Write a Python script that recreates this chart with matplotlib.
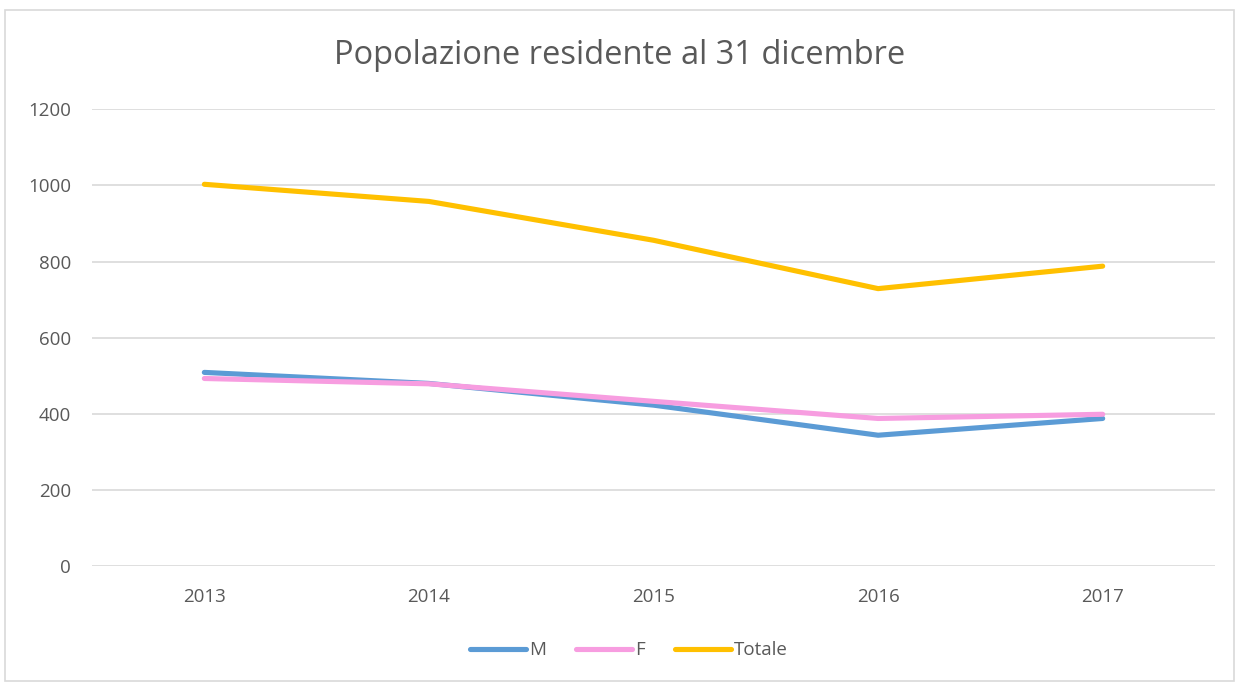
import matplotlib.pyplot as plt
from matplotlib.patches import Rectangle

# Data
years = ["2013", "2014", "2015", "2016", "2017"]
maschi = [509, 480, 423, 344, 388]
femmine = [493, 479, 433, 388, 399]
totale = [1003, 958, 856, 729, 788]

plt.rcParams["font.family"] = ["Open Sans", "DejaVu Sans"]

fig = plt.figure(figsize=(12.39, 6.83), dpi=100)
ax = fig.add_axes([0.0743, 0.171, 0.9063, 0.669])

x = range(len(years))
ax.plot(x, maschi, color="#5B9BD5", lw=3.7, solid_capstyle="round", label="M")
ax.plot(x, femmine, color="#F79DE0", lw=3.7, solid_capstyle="round", label="F")
ax.plot(x, totale, color="#FFC000", lw=3.7, solid_capstyle="round", label="Totale")

ax.set_xlim(-0.5, len(years) - 0.5)
ax.set_ylim(0, 1200)
ax.set_yticks(range(0, 1201, 200))
ax.set_xticks(list(x))
ax.set_xticklabels(years)
ax.tick_params(length=0, labelsize=13.5, colors="#595959")
ax.tick_params(axis="x", pad=16)
ax.tick_params(axis="y", pad=15)
ax.grid(axis="y", color="#D9D9D9", lw=1.2)
ax.set_axisbelow(True)
for s in ax.spines.values():
    s.set_visible(False)

fig.text(0.5, 0.919, "Popolazione residente al 31 dicembre", ha="center", va="center",
         fontsize=23.5, color="#595959")

ax.legend(loc="center", bbox_to_anchor=(0.478, -0.184), ncol=3, frameon=False,
          fontsize=13.5, labelcolor="#595959", handlelength=3.0, handletextpad=0.15,
          columnspacing=1.6)

# outer chart frame
fig.patches.append(Rectangle((0.004, 0.003), 0.992, 0.983, transform=fig.transFigure,
                             fill=False, edgecolor="#D9D9D9", lw=1.2))

fig.savefig("out.png", dpi=100)
